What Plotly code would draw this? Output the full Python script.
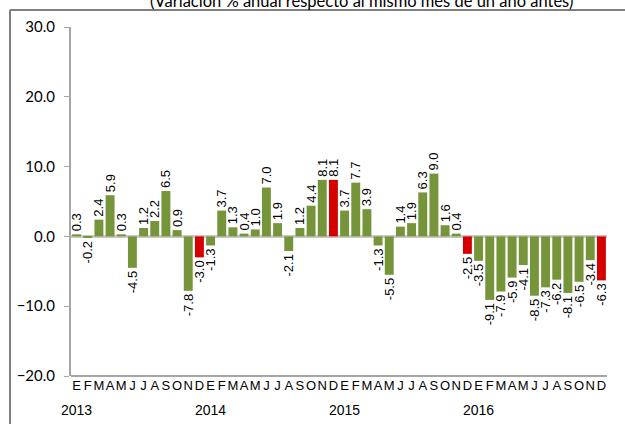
import plotly.graph_objects as go

months = ["E", "F", "M", "A", "M", "J", "J", "A", "S", "O", "N", "D"]
years = ["2013", "2014", "2015", "2016"]
values_2013 = [0.3, -0.2, 2.4, 5.9, 0.3, -4.5, 1.2, 2.2, 6.5, 0.9, -7.8, -3.0]
values_2014 = [-1.3, 3.7, 1.3, 0.4, 1.0, 7.0, 1.9, -2.1, 1.2, 4.4, 8.1, 8.1]
values_2015 = [3.7, 7.7, 3.9, -1.3, -5.5, 1.4, 1.9, 6.3, 9.0, 1.6, 0.4, -2.5]
values_2016 = [-3.5, -9.1, -7.9, -5.9, -4.1, -8.5, -7.3, -6.2, -8.1, -6.5, -3.4, -6.3]
title_text = "(Variación % anual respecto al mismo mes de un año antes)"

values = values_2013 + values_2014 + values_2015 + values_2016
x = list(range(len(values)))
green = "#76953a"
red = "#d40000"
colors = [red if (i % 12 == 11) else green for i in x]
labels = [f"{v:.1f}" for v in values]

fig = go.Figure()
fig.add_trace(go.Bar(
    x=x, y=values, marker=dict(color=colors, line=dict(width=0)),
    text=labels, textposition="outside", textangle=-90,
    textfont=dict(family="Liberation Sans, Arial", size=13, color="black"),
    cliponaxis=False, constraintext="none",
))

W, H = 625, 424
L, R, T, B = 71, 18, 27, 48
pw = W - L - R
ph = H - T - B

def px_x(p):
    return (p - L) / pw

def px_y(p):
    return (H - B - p) / ph

fig.update_layout(
    width=W, height=H,
    margin=dict(l=L, r=R, t=T, b=B),
    paper_bgcolor="white", plot_bgcolor="white",
    bargap=0.2, showlegend=False,
    xaxis=dict(
        range=[-0.5, len(values) - 0.5],
        tickmode="array", tickvals=x, ticktext=months * len(years),
        tickangle=0,
        tickfont=dict(family="Liberation Sans, Arial", size=13, color="black"),
        showgrid=False, zeroline=False, showline=False, ticks="",
    ),
    yaxis=dict(
        range=[-20, 30], dtick=10, tickformat=".1f",
        tickfont=dict(family="Lato, Open Sans", size=15, color="black"),
        showgrid=False, zeroline=True, zerolinecolor="#c8c8c8", zerolinewidth=2.5,
        showline=True, linecolor="#a6a6a6", linewidth=2,
        ticks="outside", ticklen=5, tickcolor="#a6a6a6", tickwidth=1,
        ticklabelstandoff=6,
    ),
)

# year labels under January
for i, yr in enumerate(years):
    fig.add_annotation(x=i * 12, y=px_y(410), xref="x", yref="paper",
                       text=yr, showarrow=False, yanchor="middle",
                       font=dict(family="Liberation Sans, Arial", size=14, color="black"))

# title (partially cut at top, as in the original)
fig.add_annotation(x=px_x(361), y=px_y(1), xref="paper", yref="paper",
                   text=title_text, showarrow=False, yanchor="middle",
                   font=dict(family="Lato, Open Sans", size=16.5, color="black"))

# bottom plot border
fig.add_shape(type="line", xref="paper", yref="paper", x0=0, x1=1, y0=0, y1=0,
              line=dict(color="#a6a6a6", width=2))
# frame lines
fig.add_shape(type="line", xref="paper", yref="paper",
              x0=px_x(10), x1=px_x(625), y0=px_y(10), y1=px_y(10),
              line=dict(color="#7f7f7f", width=2))
fig.add_shape(type="line", xref="paper", yref="paper",
              x0=px_x(10), x1=px_x(10), y0=px_y(10), y1=px_y(424),
              line=dict(color="#7f7f7f", width=2))

fig.write_html("out.html", config={"displayModeBar": False},
               post_script="document.body.style.margin='0';")
